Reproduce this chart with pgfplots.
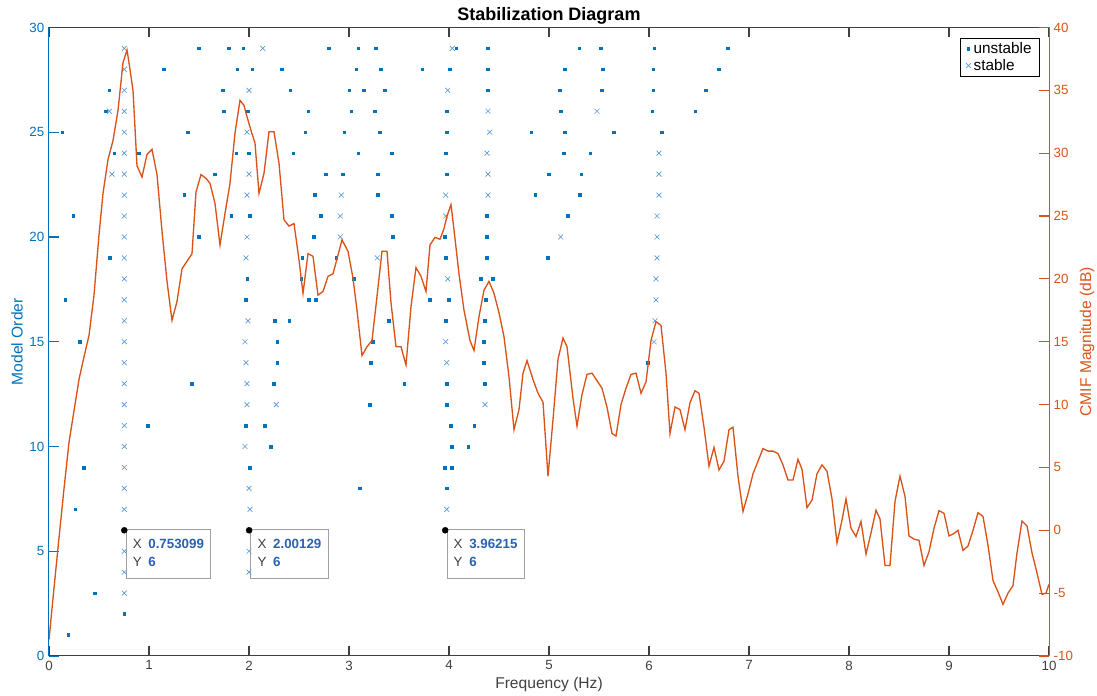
\documentclass[border=0pt]{standalone}
\usepackage{pgfplots}
\pgfplotsset{compat=1.18}
\usepackage{fontspec}
\setmainfont{Liberation Sans}
\definecolor{mblue}{HTML}{0072BD}
\definecolor{sblue}{HTML}{5A9BD8}
\definecolor{morange}{HTML}{D95319}
\definecolor{axgray}{HTML}{404040}
\definecolor{tipblue}{HTML}{2A62B0}
\definecolor{tipframe}{HTML}{A0A0A0}

\newcommand{\tip}[2]{\begin{tabular}{@{}l@{\hspace{5pt}}l@{}}\textcolor{axgray}{X} & \textcolor{tipblue}{\bfseries #1}\\ \textcolor{axgray}{Y} & \textcolor{tipblue}{\bfseries #2}\end{tabular}}

\begin{document}
\begin{tikzpicture}
\useasboundingbox (-36.75pt,-30pt) rectangle (786pt,492pt);
% left axis: stabilization points
\begin{axis}[
  at={(0,0)}, anchor=south west,
  width=750pt, height=471.4pt, scale only axis,
  xmin=0, xmax=10, ymin=0, ymax=30,
  separate axis lines,
  xtick={0,...,10}, ytick={0,5,...,30},
  xtick align=inside, ytick align=inside,
  xtick pos=both, ytick pos=left,
  major tick length=7.5pt,
  tick style={line width=0.9pt},
  xtick style={color=axgray},
  ytick style={color=mblue},
  x axis line style={axgray, line width=0.75pt},
  y axis line style={mblue, line width=0.75pt},
  xticklabel style={text=axgray, font=\fontsize{10}{12}\selectfont},
  yticklabel style={text=mblue, font=\fontsize{10}{12}\selectfont},
  /pgf/number format/assume math mode=true,
  xlabel={Frequency (Hz)}, ylabel={Model Order},
  every axis x label/.style={at={(axis description cs:0.5,-0.046)}, anchor=center, text=axgray, font=\fontsize{11.7}{14}\selectfont},
  every axis y label/.style={at={(axis description cs:-0.032,0.5)}, rotate=90, anchor=center, text=mblue, font=\fontsize{11.7}{14}\selectfont},
  title={Stabilization Diagram},
  every axis title/.style={at={(axis description cs:0.5,1.0)}, anchor=south, yshift=-1pt, font=\bfseries\fontsize{13.5}{15}\selectfont, text=black},
  legend style={at={(axis description cs:0.991,0.983)}, anchor=north east, draw=black, line width=0.6pt, font=\fontsize{11.5}{13.5}\selectfont, inner xsep=4pt, inner ysep=1pt, row sep=-1.5pt, cells={anchor=west}},
  legend image code/.code={\draw[mark repeat=2,mark phase=2] plot coordinates {(0cm,0cm) (0.15cm,0cm) (0.3cm,0cm)};},
]
\addplot[only marks, mark=square*, mark size=1pt, mblue] coordinates {
(1.50,29) (1.797,29) (1.943,29) (2.797,29) (3.093,29) (3.27,29) (4.073,29) (4.39,29) (5.303,29) (5.52,29) (6.053,29) (6.79,29)
(1.147,28) (1.883,28) (2.033,28) (2.327,28) (3.073,28) (3.32,28) (3.733,28) (4.007,28) (4.39,28) (5.157,28) (5.54,28) (6.043,28) (6.70,28)
(0.603,27) (1.737,27) (2.413,27) (3.003,27) (3.15,27) (3.357,27) (4.39,27) (5.107,27) (5.53,27) (6.043,27) (6.57,27)
(0.57,26) (1.747,26) (1.99,26) (2.593,26) (3.023,26) (3.26,26) (3.977,26) (5.117,26) (6.033,26) (6.463,26)
(0.133,25) (1.39,25) (2.563,25) (2.953,25) (3.307,25) (3.977,25) (4.823,25) (5.157,25) (5.65,25) (6.13,25)
(0.653,24) (0.90,24) (1.873,24) (2.0,24) (2.443,24) (3.093,24) (3.427,24) (3.967,24) (5.147,24) (5.413,24)
(1.657,23) (2.767,23) (2.937,23) (3.287,23) (3.977,23) (4.997,23) (5.323,23)
(1.353,22) (2.66,22) (3.287,22) (4.863,22) (5.31,22)
(0.243,21) (1.823,21) (2.01,21) (2.72,21) (3.427,21) (4.38,21) (5.187,21)
(1.50,20) (2.65,20) (3.437,20) (3.96,20) (4.38,20)
(0.607,19) (2.533,19) (2.873,19) (3.967,19) (4.38,19) (4.987,19)
(1.983,18) (2.523,18) (3.047,18) (4.32,18) (4.44,18)
(0.163,17) (1.97,17) (2.60,17) (2.67,17) (3.81,17) (3.997,17) (4.37,17)
(2.257,16) (2.403,16) (3.397,16) (3.967,16) (4.36,16)
(0.31,15) (2.283,15) (3.24,15) (4.35,15)
(2.283,14) (3.22,14) (4.35,14) (5.99,14)
(1.43,13) (2.247,13) (3.553,13) (3.977,13) (4.36,13)
(3.21,12) (3.977,12)
(0.987,11) (1.97,11) (2.16,11) (4.017,11) (4.253,11)
(2.217,10) (4.027,10) (4.193,10)
(0.35,9) (2.01,9) (3.957,9) (4.027,9)
(3.11,8) (3.977,8)
(0.263,7)
(0.457,3)
(0.753,2)
(0.193,1)
};
\addlegendentry{unstable}
\addplot[only marks, mark=x, mark size=2.6pt, sblue, line width=0.5pt] coordinates {
(0.753,29) (2.137,29) (4.033,29)
(0.753,28)
(0.753,27) (2.0,27) (3.987,27)
(0.603,26) (0.753,26) (4.39,26) (5.48,26)
(0.753,25) (1.98,25) (4.407,25)
(0.753,24) (4.38,24) (6.10,24)
(0.63,23) (0.753,23) (2.0,23) (4.39,23) (6.10,23)
(0.753,22) (1.98,22) (2.923,22) (3.967,22) (4.39,22) (6.10,22)
(0.753,21) (2.913,21) (3.967,21) (6.08,21)
(0.753,20) (1.98,20) (2.913,20) (5.117,20) (6.08,20)
(0.753,19) (1.97,19) (3.283,19) (6.08,19)
(0.753,18) (3.987,18) (6.07,18)
(0.753,17) (6.07,17)
(0.753,16) (1.99,16) (6.06,16)
(0.753,15) (1.96,15) (3.967,15) (6.05,15)
(0.753,14) (1.97,14) (3.977,14)
(0.753,13) (1.98,13)
(0.753,12) (1.98,12) (2.273,12) (4.36,12)
(0.753,11)
(0.753,10) (1.96,10)
(0.753,9)
(0.753,8) (2.0,8)
(0.753,7) (2.01,7) (3.977,7)
(0.753,6) (2.001,6) (3.962,6)
(0.753,5) (2.0,5)
(0.753,4) (2.0,4)
(0.753,3)
};
\addlegendentry{stable}
\addplot[only marks, mark=*, mark size=2.2pt, black, forget plot] coordinates {
(0.753099,6) (2.00129,6) (3.96215,6)
};
\node[anchor=north west, draw=tipframe, fill=white, line width=0.75pt, inner xsep=5pt, inner ysep=5.5pt, font=\fontsize{10}{13}\selectfont] at (axis cs:0.753099,6) [xshift=1pt, yshift=1pt] {\tip{0.753099}{6}};
\node[anchor=north west, draw=tipframe, fill=white, line width=0.75pt, inner xsep=5pt, inner ysep=5.5pt, font=\fontsize{10}{13}\selectfont] at (axis cs:2.00129,6) [xshift=1pt, yshift=1pt] {\tip{2.00129}{6}};
\node[anchor=north west, draw=tipframe, fill=white, line width=0.75pt, inner xsep=5pt, inner ysep=5.5pt, font=\fontsize{10}{13}\selectfont] at (axis cs:3.96215,6) [xshift=1pt, yshift=1pt] {\tip{3.96215}{6}};
\end{axis}
% right axis: CMIF curve
\begin{axis}[
  at={(0,0)}, anchor=south west,
  width=750pt, height=471.4pt, scale only axis,
  xmin=0, xmax=10, ymin=-10, ymax=40,
  axis y line*=right, axis x line=none,
  ytick={-10,-5,...,40},
  ytick align=inside, major tick length=7.5pt,
  tick style={line width=0.9pt},
  ytick style={color=morange},
  y axis line style={morange, line width=0.75pt, -},
  yticklabel style={text=morange, font=\fontsize{10}{12}\selectfont},
  /pgf/number format/assume math mode=true,
  ylabel={CMIF Magnitude (dB)},
  every axis y label/.style={at={(axis description cs:1.038,0.5)}, rotate=90, anchor=center, text=morange, font=\fontsize{11.7}{14}\selectfont},
]
\addplot[morange, line width=1pt] coordinates {
(0.00,-8.7) (0.05,-4.6) (0.10,-0.6) (0.15,3.3) (0.20,7.0) (0.25,9.5) (0.30,12.0) (0.35,13.8) (0.40,15.5) (0.45,18.7)
(0.50,23.5) (0.54,26.8) (0.59,29.5) (0.64,31.0) (0.69,33.4) (0.74,37.2) (0.78,38.2) (0.80,37.2) (0.84,35.0) (0.88,29.0)
(0.93,28.1) (0.98,29.9) (1.03,30.3) (1.08,28.3) (1.13,23.8) (1.18,19.8) (1.23,16.7) (1.28,18.2) (1.33,20.8) (1.38,21.4)
(1.43,22.0) (1.47,26.9) (1.52,28.3) (1.57,28.0) (1.61,27.6) (1.66,26.0) (1.71,22.7) (1.76,25.2) (1.81,27.6) (1.86,31.6)
(1.91,34.2) (1.95,33.8) (1.98,32.9) (2.02,31.8) (2.06,30.8) (2.10,26.8) (2.15,28.4) (2.20,31.7) (2.25,31.7) (2.30,29.2)
(2.35,24.7) (2.40,24.2) (2.45,24.4) (2.50,21.5) (2.54,18.85) (2.59,22.0) (2.64,21.8) (2.69,18.7) (2.74,19.0) (2.79,20.2)
(2.84,20.4) (2.88,21.6) (2.93,23.1) (2.99,22.2) (3.04,20.05) (3.08,17.5) (3.13,13.9) (3.18,14.6) (3.23,15.1) (3.28,18.6)
(3.33,22.2) (3.38,22.2) (3.42,18.1) (3.47,14.6) (3.52,14.6) (3.57,13.15) (3.62,17.8) (3.67,20.9) (3.72,20.2) (3.77,19.0)
(3.81,22.7) (3.86,23.3) (3.91,23.15) (3.95,24.0) (3.98,25.0) (4.02,25.9) (4.05,23.9) (4.10,20.4) (4.15,17.5) (4.21,15.1)
(4.25,14.3) (4.30,17.0) (4.35,19.1) (4.40,19.8) (4.45,18.85) (4.50,17.3) (4.55,15.4) (4.60,12.2) (4.65,8.0) (4.70,9.6)
(4.74,12.5) (4.78,13.5) (4.84,12.0) (4.89,10.9) (4.94,10.2) (4.99,4.3) (5.04,8.8) (5.09,13.6) (5.14,15.3) (5.18,14.6)
(5.24,10.5) (5.28,8.3) (5.33,10.8) (5.38,12.4) (5.43,12.5) (5.48,11.9) (5.53,11.3) (5.58,9.8) (5.63,7.7) (5.67,7.5)
(5.72,10.0) (5.77,11.3) (5.82,12.4) (5.87,12.5) (5.92,10.9) (5.97,11.8) (6.02,15.1) (6.07,16.6) (6.12,16.3) (6.17,12.5)
(6.21,7.7) (6.26,9.8) (6.31,9.6) (6.36,8.0) (6.41,10.15) (6.46,11.1) (6.50,10.9) (6.55,8.2) (6.60,5.1) (6.65,6.6)
(6.70,4.8) (6.75,5.5) (6.80,8.0) (6.84,8.2) (6.89,4.3) (6.94,1.5) (6.99,2.9) (7.04,4.5) (7.09,5.5) (7.14,6.5)
(7.19,6.3) (7.24,6.3) (7.29,6.1) (7.34,5.2) (7.39,4.0) (7.44,4.0) (7.49,5.65) (7.53,4.85) (7.58,1.8) (7.63,2.4)
(7.68,4.5) (7.73,5.2) (7.78,4.7) (7.83,2.5) (7.88,-1.0) (7.93,0.8) (7.97,2.5) (8.02,0.16) (8.07,-0.5) (8.12,0.7)
(8.17,-1.9) (8.22,-0.2) (8.27,1.6) (8.31,0.9) (8.36,-2.8) (8.41,-2.8) (8.46,2.3) (8.51,4.3) (8.56,2.7) (8.60,-0.45)
(8.65,-0.7) (8.70,-0.8) (8.75,-2.8) (8.80,-1.7) (8.85,0.16) (8.90,1.56) (8.95,1.35) (9.00,-0.45) (9.04,-0.3) (9.09,0.0)
(9.14,-1.6) (9.19,-1.25) (9.24,0.0) (9.29,1.4) (9.34,1.1) (9.39,-1.2) (9.44,-4.0) (9.49,-4.9) (9.54,-5.9) (9.59,-5.0)
(9.64,-4.4) (9.68,-1.8) (9.73,0.74) (9.78,0.34) (9.83,-1.8) (9.88,-3.4) (9.93,-5.1) (9.97,-5.0) (10.0,-4.3)
};
\end{axis}
\end{tikzpicture}
\end{document}
